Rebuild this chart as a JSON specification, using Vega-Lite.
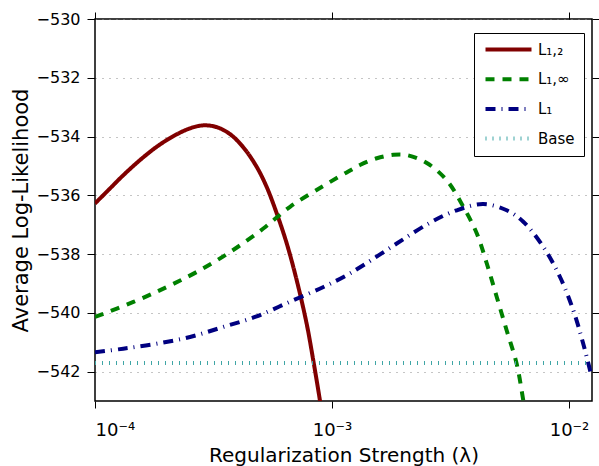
{
  "$schema": "https://vega.github.io/schema/vega-lite/v6.json",
  "autosize": {"type": "none"},
  "padding": {"left": 95, "top": 19, "right": 7, "bottom": 65},
  "width": 497,
  "height": 382,
  "background": "white",
  "config": {
    "font": "DejaVu Sans",
    "view": {"stroke": "black", "strokeWidth": 1.5},
    "axis": {
      "labelFont": "DejaVu Sans",
      "titleFont": "DejaVu Sans",
      "labelFontSize": 16,
      "titleFontSize": 20,
      "titleFontWeight": "normal",
      "labelColor": "black",
      "titleColor": "black",
      "tickColor": "black",
      "tickWidth": 1,
      "domain": false
    },
    "legend": {
      "labelFont": "DejaVu Sans",
      "labelFontSize": 15,
      "labelColor": "black"
    }
  },
  "data": {
    "values": [
      {"series": "L₁,₂", "lambda": 0.0001, "ll": -536.28},
      {"series": "L₁,₂", "lambda": 0.0001156, "ll": -535.77},
      {"series": "L₁,₂", "lambda": 0.0001315, "ll": -535.32},
      {"series": "L₁,₂", "lambda": 0.0001549, "ll": -534.80},
      {"series": "L₁,₂", "lambda": 0.0001820, "ll": -534.35},
      {"series": "L₁,₂", "lambda": 0.0002138, "ll": -533.99},
      {"series": "L₁,₂", "lambda": 0.0002518, "ll": -533.72},
      {"series": "L₁,₂", "lambda": 0.0002864, "ll": -533.62},
      {"series": "L₁,₂", "lambda": 0.0003266, "ll": -533.68},
      {"series": "L₁,₂", "lambda": 0.0003715, "ll": -533.92},
      {"series": "L₁,₂", "lambda": 0.0004227, "ll": -534.37},
      {"series": "L₁,₂", "lambda": 0.0004808, "ll": -535.03},
      {"series": "L₁,₂", "lambda": 0.0005297, "ll": -535.71},
      {"series": "L₁,₂", "lambda": 0.0005848, "ll": -536.62},
      {"series": "L₁,₂", "lambda": 0.0006442, "ll": -537.64},
      {"series": "L₁,₂", "lambda": 0.0007096, "ll": -538.89},
      {"series": "L₁,₂", "lambda": 0.0007816, "ll": -540.37},
      {"series": "L₁,₂", "lambda": 0.0008337, "ll": -541.62},
      {"series": "L₁,₂", "lambda": 0.0008892, "ll": -542.98},
      {"series": "L₁,₂", "lambda": 0.000933, "ll": -544.1},

      {"series": "L₁,∞", "lambda": 0.0001, "ll": -540.14},
      {"series": "L₁,∞", "lambda": 0.0001452, "ll": -539.63},
      {"series": "L₁,∞", "lambda": 0.0002009, "ll": -539.12},
      {"series": "L₁,∞", "lambda": 0.0002685, "ll": -538.61},
      {"series": "L₁,∞", "lambda": 0.0003715, "ll": -537.93},
      {"series": "L₁,∞", "lambda": 0.0005129, "ll": -537.13},
      {"series": "L₁,∞", "lambda": 0.0006653, "ll": -536.39},
      {"series": "L₁,∞", "lambda": 0.0009204, "ll": -535.68},
      {"series": "L₁,∞", "lambda": 0.001153, "ll": -535.22},
      {"series": "L₁,∞", "lambda": 0.001312, "ll": -534.97},
      {"series": "L₁,∞", "lambda": 0.001545, "ll": -534.74},
      {"series": "L₁,∞", "lambda": 0.001816, "ll": -534.62},
      {"series": "L₁,∞", "lambda": 0.002065, "ll": -534.63},
      {"series": "L₁,∞", "lambda": 0.002512, "ll": -534.90},
      {"series": "L₁,∞", "lambda": 0.003048, "ll": -535.49},
      {"series": "L₁,∞", "lambda": 0.003581, "ll": -536.39},
      {"series": "L₁,∞", "lambda": 0.004083, "ll": -537.30},
      {"series": "L₁,∞", "lambda": 0.004498, "ll": -538.32},
      {"series": "L₁,∞", "lambda": 0.004955, "ll": -539.46},
      {"series": "L₁,∞", "lambda": 0.005458, "ll": -540.60},
      {"series": "L₁,∞", "lambda": 0.006012, "ll": -541.73},
      {"series": "L₁,∞", "lambda": 0.006412, "ll": -542.98},
      {"series": "L₁,∞", "lambda": 0.006607, "ll": -543.6},

      {"series": "L₁", "lambda": 0.0001, "ll": -541.34},
      {"series": "L₁", "lambda": 0.0001315, "ll": -541.22},
      {"series": "L₁", "lambda": 0.0001820, "ll": -541.05},
      {"series": "L₁", "lambda": 0.0002518, "ll": -540.82},
      {"series": "L₁", "lambda": 0.0003475, "ll": -540.48},
      {"series": "L₁", "lambda": 0.0004808, "ll": -540.12},
      {"series": "L₁", "lambda": 0.0006653, "ll": -539.62},
      {"series": "L₁", "lambda": 0.0009204, "ll": -539.12},
      {"series": "L₁", "lambda": 0.001153, "ll": -538.72},
      {"series": "L₁", "lambda": 0.001355, "ll": -538.38},
      {"series": "L₁", "lambda": 0.001875, "ll": -537.64},
      {"series": "L₁", "lambda": 0.002594, "ll": -536.93},
      {"series": "L₁", "lambda": 0.003357, "ll": -536.51},
      {"series": "L₁", "lambda": 0.004345, "ll": -536.30},
      {"series": "L₁", "lambda": 0.005458, "ll": -536.51},
      {"series": "L₁", "lambda": 0.006412, "ll": -536.90},
      {"series": "L₁", "lambda": 0.007798, "ll": -537.76},
      {"series": "L₁", "lambda": 0.009162, "ll": -538.78},
      {"series": "L₁", "lambda": 0.01042, "ll": -539.91},
      {"series": "L₁", "lambda": 0.01148, "ll": -541.05},
      {"series": "L₁", "lambda": 0.01247, "ll": -542.19},

      {"series": "Base", "lambda": 0.0001, "ll": -541.71},
      {"series": "Base", "lambda": 0.0125, "ll": -541.71}
    ]
  },
  "resolve": {"axis": {"x": "independent", "y": "independent"}},
  "layer": [
    {
      "mark": {"type": "line", "clip": true, "interpolate": "catmull-rom", "strokeCap": "butt"},
      "encoding": {
        "x": {
          "field": "lambda", "type": "quantitative",
          "scale": {"type": "log", "domain": [0.0001, 0.0125], "nice": false},
          "axis": {
            "orient": "bottom",
            "values": [0.0001, 0.001, 0.01],
            "labelExpr": "datum.value < 0.0005 ? '10⁻⁴' : (datum.value < 0.005 ? '10⁻³' : '10⁻²')",
            "labelFontSize": 18,
            "tickSize": 7,
            "labelPadding": 13,
            "grid": false,
            "title": "Regularization Strength (λ)",
            "titlePadding": 6
          }
        },
        "y": {
          "field": "ll", "type": "quantitative",
          "scale": {"domain": [-543, -530], "nice": false, "zero": false},
          "axis": {
            "orient": "left",
            "values": [-542, -540, -538, -536, -534, -532, -530],
            "tickSize": 8,
            "labelPadding": 7,
            "grid": true,
            "gridColor": "#8a8a8a",
            "gridDash": [1, 6],
            "gridWidth": 1,
            "title": "Average Log-Likelihood",
            "titleFontSize": 21,
            "titleAnchor": "middle",
            "titlePadding": 5
          }
        },
        "color": {
          "field": "series", "type": "nominal",
          "scale": {
            "domain": ["L₁,₂", "L₁,∞", "L₁", "Base"],
            "range": ["#800000", "#008000", "#000080", "#3fa6a6"]
          },
          "legend": {
            "title": null,
            "orient": "none",
            "legendX": 379,
            "legendY": 14,
            "symbolType": "M-1,0H8.2",
            "symbolSize": 100,
            "labelOffset": 40,
            "rowPadding": 12.7,
            "padding": 9,
            "strokeColor": "black",
            "fillColor": "white",
            "cornerRadius": 0
          }
        },
        "strokeDash": {
          "field": "series", "type": "nominal",
          "scale": {
            "domain": ["L₁,₂", "L₁,∞", "L₁", "Base"],
            "range": [[1, 0], [9, 8], [10, 6, 1, 6], [1, 6]]
          },
          "legend": {"title": null}
        },
        "strokeWidth": {
          "field": "series", "type": "nominal",
          "scale": {
            "domain": ["L₁,₂", "L₁,∞", "L₁", "Base"],
            "range": [4, 4, 4, 5]
          },
          "legend": {"title": null}
        }
      }
    },
    {
      "mark": {"type": "line", "opacity": 0},
      "encoding": {
        "x": {
          "field": "lambda", "type": "quantitative",
          "axis": {
            "orient": "top", "values": [0.0001, 0.001, 0.01],
            "labels": false, "tickSize": 7, "grid": false, "title": null
          }
        },
        "y": {
          "field": "ll", "type": "quantitative",
          "axis": {
            "orient": "right", "values": [-542, -540, -538, -536, -534, -532, -530],
            "labels": false, "tickSize": 7, "grid": false, "title": null
          }
        }
      }
    }
  ]
}
